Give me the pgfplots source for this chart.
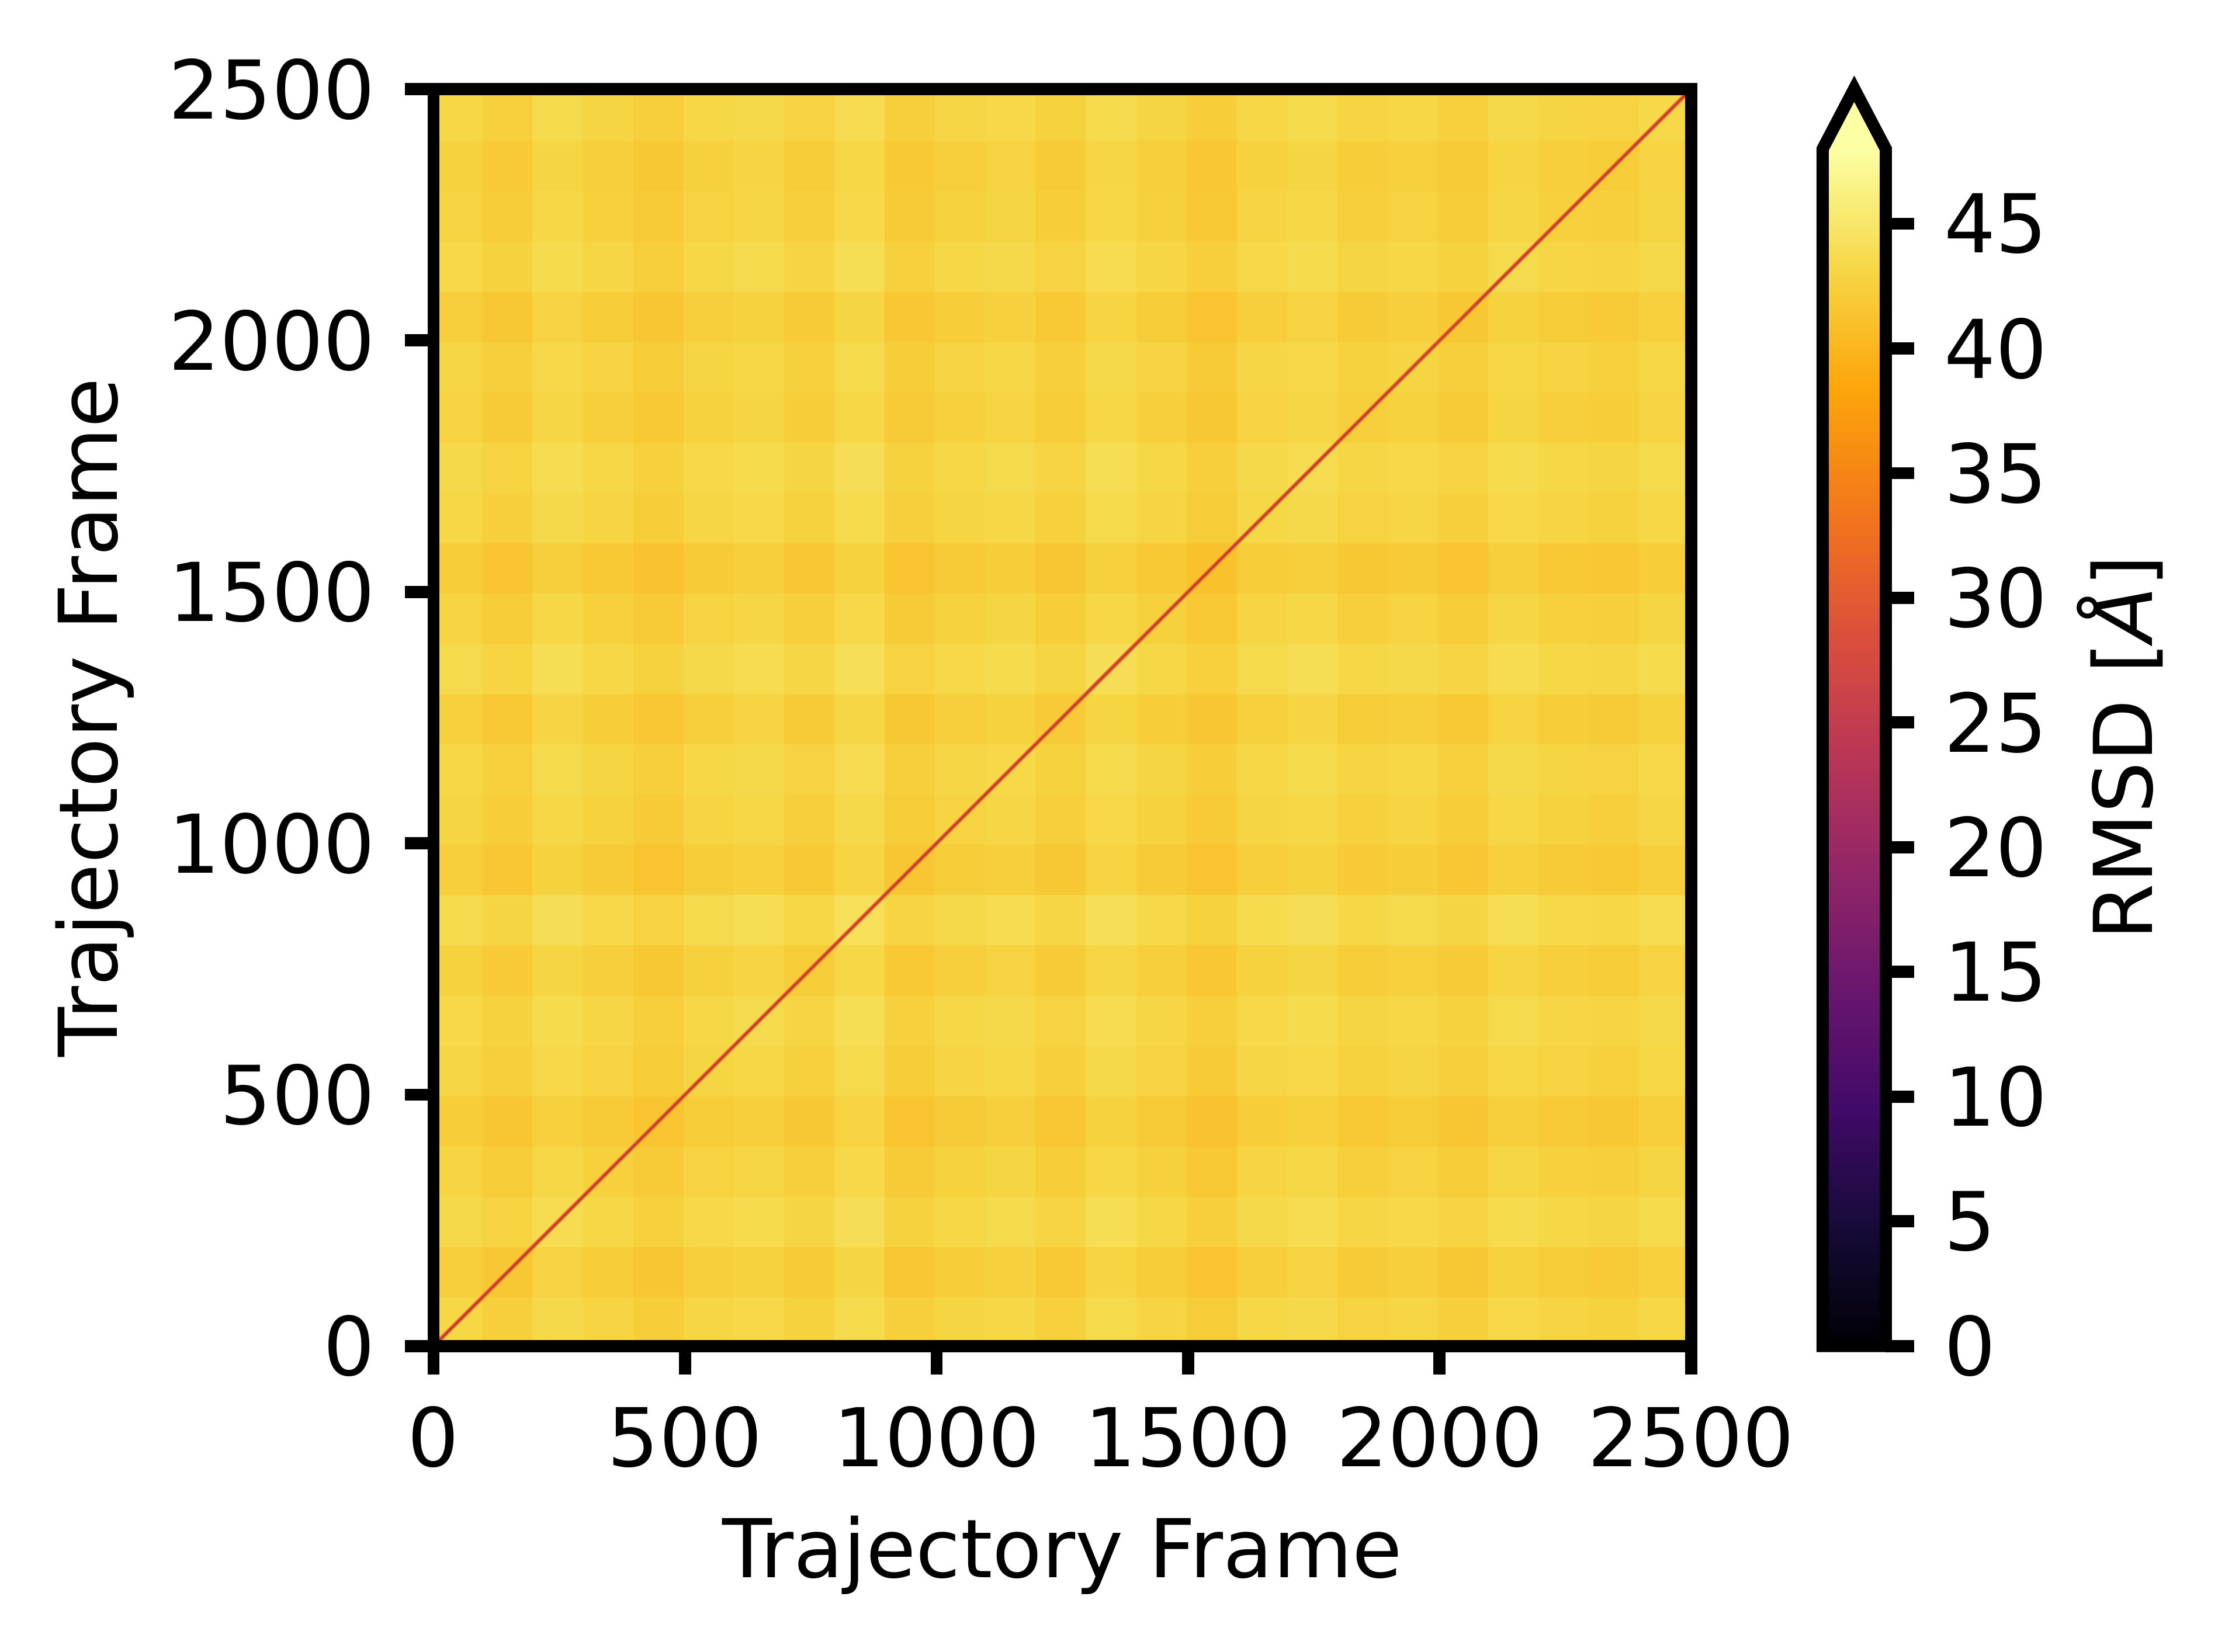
\documentclass[border=0pt]{standalone}
\usepackage{fontspec}
\setmainfont{DejaVu Sans}
\usepackage{pgfplots}
\pgfplotsset{compat=1.18}
\usepackage{pgfplotstable}

\pgfkeys{/pgf/number format/.cd, assume math mode=true, 1000 sep={}}

\definecolor{cbover}{RGB}{252,255,164}
\definecolor{diagglow}{RGB}{236,98,32}
\definecolor{diagcore}{RGB}{150,35,85}

% matplotlib "inferno"
\pgfplotsset{
  colormap={inferno}{
    rgb255(0cm)=(0,0,4); rgb255(1cm)=(22,11,57); rgb255(2cm)=(66,10,104);
    rgb255(3cm)=(106,23,110); rgb255(4cm)=(147,38,103); rgb255(5cm)=(188,55,84);
    rgb255(6cm)=(221,81,58); rgb255(7cm)=(243,120,25); rgb255(8cm)=(252,165,10);
    rgb255(9cm)=(246,215,70); rgb255(10cm)=(252,255,164)
  },
}

% pairwise RMSD, 25 x 25 blocks of 100 frames, one line per row (x varies)
\pgfplotstableread[row sep=\\]{
c\\
43.2\\ 42.5\\ 43.5\\ 42.9\\ 42.3\\ 43.1\\ 43.4\\ 42.7\\ 43.7\\ 42.4\\ 43.0\\ 43.3\\ 42.6\\ 43.6\\ 42.9\\ 42.2\\ 43.2\\ 43.5\\ 42.8\\ 43.1\\ 42.5\\ 43.4\\ 42.9\\ 42.7\\ 43.3\\
42.5\\ 41.8\\ 42.8\\ 42.2\\ 41.6\\ 42.4\\ 42.7\\ 42.0\\ 43.0\\ 41.7\\ 42.3\\ 42.6\\ 41.9\\ 42.9\\ 42.2\\ 41.5\\ 42.5\\ 42.8\\ 42.1\\ 42.4\\ 41.8\\ 42.7\\ 42.2\\ 42.0\\ 42.6\\
43.5\\ 42.8\\ 43.8\\ 43.2\\ 42.6\\ 43.4\\ 43.7\\ 43.0\\ 44.0\\ 42.7\\ 43.3\\ 43.6\\ 42.9\\ 43.9\\ 43.2\\ 42.5\\ 43.5\\ 43.8\\ 43.1\\ 43.4\\ 42.8\\ 43.7\\ 43.2\\ 43.0\\ 43.6\\
42.9\\ 42.2\\ 43.2\\ 42.6\\ 42.0\\ 42.8\\ 43.1\\ 42.4\\ 43.4\\ 42.1\\ 42.7\\ 43.0\\ 42.3\\ 43.3\\ 42.6\\ 41.9\\ 42.9\\ 43.2\\ 42.5\\ 42.8\\ 42.2\\ 43.1\\ 42.6\\ 42.4\\ 43.0\\
42.3\\ 41.6\\ 42.6\\ 42.0\\ 41.4\\ 42.2\\ 42.5\\ 41.8\\ 42.8\\ 41.5\\ 42.1\\ 42.4\\ 41.7\\ 42.7\\ 42.0\\ 41.3\\ 42.3\\ 42.6\\ 41.9\\ 42.2\\ 41.6\\ 42.5\\ 42.0\\ 41.8\\ 42.4\\
43.1\\ 42.4\\ 43.4\\ 42.8\\ 42.2\\ 43.0\\ 43.3\\ 42.6\\ 43.6\\ 42.3\\ 42.9\\ 43.2\\ 42.5\\ 43.5\\ 42.8\\ 42.1\\ 43.1\\ 43.4\\ 42.7\\ 43.0\\ 42.4\\ 43.3\\ 42.8\\ 42.6\\ 43.2\\
43.4\\ 42.7\\ 43.7\\ 43.1\\ 42.5\\ 43.3\\ 43.6\\ 42.9\\ 43.9\\ 42.6\\ 43.2\\ 43.5\\ 42.8\\ 43.8\\ 43.1\\ 42.4\\ 43.4\\ 43.7\\ 43.0\\ 43.3\\ 42.7\\ 43.6\\ 43.1\\ 42.9\\ 43.5\\
42.7\\ 42.0\\ 43.0\\ 42.4\\ 41.8\\ 42.6\\ 42.9\\ 42.2\\ 43.2\\ 41.9\\ 42.5\\ 42.8\\ 42.1\\ 43.1\\ 42.4\\ 41.7\\ 42.7\\ 43.0\\ 42.3\\ 42.6\\ 42.0\\ 42.9\\ 42.4\\ 42.2\\ 42.8\\
43.7\\ 43.0\\ 44.0\\ 43.4\\ 42.8\\ 43.6\\ 43.9\\ 43.2\\ 44.2\\ 42.9\\ 43.5\\ 43.8\\ 43.1\\ 44.1\\ 43.4\\ 42.7\\ 43.7\\ 44.0\\ 43.3\\ 43.6\\ 43.0\\ 43.9\\ 43.4\\ 43.2\\ 43.8\\
42.4\\ 41.7\\ 42.7\\ 42.1\\ 41.5\\ 42.3\\ 42.6\\ 41.9\\ 42.9\\ 41.6\\ 42.2\\ 42.5\\ 41.8\\ 42.8\\ 42.1\\ 41.4\\ 42.4\\ 42.7\\ 42.0\\ 42.3\\ 41.7\\ 42.6\\ 42.1\\ 41.9\\ 42.5\\
43.0\\ 42.3\\ 43.3\\ 42.7\\ 42.1\\ 42.9\\ 43.2\\ 42.5\\ 43.5\\ 42.2\\ 42.8\\ 43.1\\ 42.4\\ 43.4\\ 42.7\\ 42.0\\ 43.0\\ 43.3\\ 42.6\\ 42.9\\ 42.3\\ 43.2\\ 42.7\\ 42.5\\ 43.1\\
43.3\\ 42.6\\ 43.6\\ 43.0\\ 42.4\\ 43.2\\ 43.5\\ 42.8\\ 43.8\\ 42.5\\ 43.1\\ 43.4\\ 42.7\\ 43.7\\ 43.0\\ 42.3\\ 43.3\\ 43.6\\ 42.9\\ 43.2\\ 42.6\\ 43.5\\ 43.0\\ 42.8\\ 43.4\\
42.6\\ 41.9\\ 42.9\\ 42.3\\ 41.7\\ 42.5\\ 42.8\\ 42.1\\ 43.1\\ 41.8\\ 42.4\\ 42.7\\ 42.0\\ 43.0\\ 42.3\\ 41.6\\ 42.6\\ 42.9\\ 42.2\\ 42.5\\ 41.9\\ 42.8\\ 42.3\\ 42.1\\ 42.7\\
43.6\\ 42.9\\ 43.9\\ 43.3\\ 42.7\\ 43.5\\ 43.8\\ 43.1\\ 44.1\\ 42.8\\ 43.4\\ 43.7\\ 43.0\\ 44.0\\ 43.3\\ 42.6\\ 43.6\\ 43.9\\ 43.2\\ 43.5\\ 42.9\\ 43.8\\ 43.3\\ 43.1\\ 43.7\\
42.9\\ 42.2\\ 43.2\\ 42.6\\ 42.0\\ 42.8\\ 43.1\\ 42.4\\ 43.4\\ 42.1\\ 42.7\\ 43.0\\ 42.3\\ 43.3\\ 42.6\\ 41.9\\ 42.9\\ 43.2\\ 42.5\\ 42.8\\ 42.2\\ 43.1\\ 42.6\\ 42.4\\ 43.0\\
42.2\\ 41.5\\ 42.5\\ 41.9\\ 41.3\\ 42.1\\ 42.4\\ 41.7\\ 42.7\\ 41.4\\ 42.0\\ 42.3\\ 41.6\\ 42.6\\ 41.9\\ 41.2\\ 42.2\\ 42.5\\ 41.8\\ 42.1\\ 41.5\\ 42.4\\ 41.9\\ 41.7\\ 42.3\\
43.2\\ 42.5\\ 43.5\\ 42.9\\ 42.3\\ 43.1\\ 43.4\\ 42.7\\ 43.7\\ 42.4\\ 43.0\\ 43.3\\ 42.6\\ 43.6\\ 42.9\\ 42.2\\ 43.2\\ 43.5\\ 42.8\\ 43.1\\ 42.5\\ 43.4\\ 42.9\\ 42.7\\ 43.3\\
43.5\\ 42.8\\ 43.8\\ 43.2\\ 42.6\\ 43.4\\ 43.7\\ 43.0\\ 44.0\\ 42.7\\ 43.3\\ 43.6\\ 42.9\\ 43.9\\ 43.2\\ 42.5\\ 43.5\\ 43.8\\ 43.1\\ 43.4\\ 42.8\\ 43.7\\ 43.2\\ 43.0\\ 43.6\\
42.8\\ 42.1\\ 43.1\\ 42.5\\ 41.9\\ 42.7\\ 43.0\\ 42.3\\ 43.3\\ 42.0\\ 42.6\\ 42.9\\ 42.2\\ 43.2\\ 42.5\\ 41.8\\ 42.8\\ 43.1\\ 42.4\\ 42.7\\ 42.1\\ 43.0\\ 42.5\\ 42.3\\ 42.9\\
43.1\\ 42.4\\ 43.4\\ 42.8\\ 42.2\\ 43.0\\ 43.3\\ 42.6\\ 43.6\\ 42.3\\ 42.9\\ 43.2\\ 42.5\\ 43.5\\ 42.8\\ 42.1\\ 43.1\\ 43.4\\ 42.7\\ 43.0\\ 42.4\\ 43.3\\ 42.8\\ 42.6\\ 43.2\\
42.5\\ 41.8\\ 42.8\\ 42.2\\ 41.6\\ 42.4\\ 42.7\\ 42.0\\ 43.0\\ 41.7\\ 42.3\\ 42.6\\ 41.9\\ 42.9\\ 42.2\\ 41.5\\ 42.5\\ 42.8\\ 42.1\\ 42.4\\ 41.8\\ 42.7\\ 42.2\\ 42.0\\ 42.6\\
43.4\\ 42.7\\ 43.7\\ 43.1\\ 42.5\\ 43.3\\ 43.6\\ 42.9\\ 43.9\\ 42.6\\ 43.2\\ 43.5\\ 42.8\\ 43.8\\ 43.1\\ 42.4\\ 43.4\\ 43.7\\ 43.0\\ 43.3\\ 42.7\\ 43.6\\ 43.1\\ 42.9\\ 43.5\\
42.9\\ 42.2\\ 43.2\\ 42.6\\ 42.0\\ 42.8\\ 43.1\\ 42.4\\ 43.4\\ 42.1\\ 42.7\\ 43.0\\ 42.3\\ 43.3\\ 42.6\\ 41.9\\ 42.9\\ 43.2\\ 42.5\\ 42.8\\ 42.2\\ 43.1\\ 42.6\\ 42.4\\ 43.0\\
42.7\\ 42.0\\ 43.0\\ 42.4\\ 41.8\\ 42.6\\ 42.9\\ 42.2\\ 43.2\\ 41.9\\ 42.5\\ 42.8\\ 42.1\\ 43.1\\ 42.4\\ 41.7\\ 42.7\\ 43.0\\ 42.3\\ 42.6\\ 42.0\\ 42.9\\ 42.4\\ 42.2\\ 42.8\\
43.3\\ 42.6\\ 43.6\\ 43.0\\ 42.4\\ 43.2\\ 43.5\\ 42.8\\ 43.8\\ 42.5\\ 43.1\\ 43.4\\ 42.7\\ 43.7\\ 43.0\\ 42.3\\ 43.3\\ 43.6\\ 42.9\\ 43.2\\ 42.6\\ 43.5\\ 43.0\\ 42.8\\ 43.4\\
}\rmsd

\begin{document}
\fontsize{10bp}{12bp}\selectfont
\begin{tikzpicture}[font=\fontsize{10bp}{12bp}\selectfont]
\begin{axis}[
  scale only axis, width=154.94bp, height=154.9bp,
  xmin=0, xmax=2500, ymin=0, ymax=2500,
  xtick={0,500,...,2500}, ytick={0,500,...,2500},
  xtick pos=bottom, ytick pos=left,
  tick align=outside, major tick length=3.5bp,
  tick style={line width=1.5bp, black},
  axis line style={line width=1.5bp},
  axis on top,
  colormap name=inferno,
  point meta min=0, point meta max=48,
  xticklabel style={inner sep=0pt, anchor=north, yshift=-3.7bp},
  yticklabel style={inner sep=0pt, anchor=east, xshift=-3.5bp},
  every axis x label/.style={at={(axis description cs:0.5,-0.1841)}, anchor=base, inner sep=0pt},
  every axis y label/.style={at={(axis description cs:-0.2514,0.5)}, anchor=base, rotate=90, inner sep=0pt},
  xlabel={Trajectory Frame},
  ylabel={Trajectory Frame},
]
\addplot[matrix plot*, mesh/cols=25, mesh/ordering=x varies, point meta=explicit]
  table[x index=0, y index=0,
        x expr={mod(\coordindex,25)*100+50},
        y expr={(\coordindex-mod(\coordindex,25))/25*100+50},
        meta index=0] {\rmsd};
% diagonal: each frame against itself
\addplot[draw=diagglow, line width=0.5bp] coordinates {(0,0) (2500,2500)};
\addplot[draw=diagcore, line width=0.1bp] coordinates {(0,0) (2500,2500)};
\coordinate (bl) at (rel axis cs:0,0);
\coordinate (tr) at (rel axis cs:1,1);
\end{axis}

% colour bar, with the "extend=max" arrow on top
\begin{axis}[
  at={(bl -| tr)}, anchor=south west, xshift=16.2bp,
  scale only axis, width=7.78bp, height=147.53bp,
  xmin=0, xmax=1, ymin=0, ymax=48,
  xtick=\empty, ytick={0,5,...,45},
  ytick pos=right, yticklabel pos=right,
  tick align=outside, major tick length=3.5bp,
  tick style={line width=1.5bp, black},
  axis line style={draw=none},
  yticklabel style={inner sep=0pt, anchor=west, xshift=3.5bp},
  every axis y label/.style={at={(axis description cs:5.216,0.5)}, anchor=base, rotate=90, inner sep=0pt},
  ylabel={RMSD [\textit{Å}]},
  colormap name=inferno, point meta min=0, point meta max=48,
  clip=false,
]
\addplot[surf, shader=interp, mesh/cols=2, point meta=y] coordinates {
  (0,0) (1,0) (0,4.8) (1,4.8) (0,9.6) (1,9.6) (0,14.4) (1,14.4)
  (0,19.2) (1,19.2) (0,24) (1,24) (0,28.8) (1,28.8) (0,33.6) (1,33.6)
  (0,38.4) (1,38.4) (0,43.2) (1,43.2) (0,48) (1,48)
};
\fill[cbover] (rel axis cs:0,1) -- (rel axis cs:0.5,1.0503) -- (rel axis cs:1,1) -- cycle;
\draw[line width=1.5bp, line join=miter] (rel axis cs:0,0) -- (rel axis cs:0,1)
  -- (rel axis cs:0.5,1.0503) -- (rel axis cs:1,1) -- (rel axis cs:1,0) -- cycle;
\end{axis}

\pgfresetboundingbox
\path ([xshift=-53.42bp,yshift=-37.66bp]bl) rectangle ([xshift=65.77bp,yshift=10.98bp]tr);
\end{tikzpicture}
\end{document}
